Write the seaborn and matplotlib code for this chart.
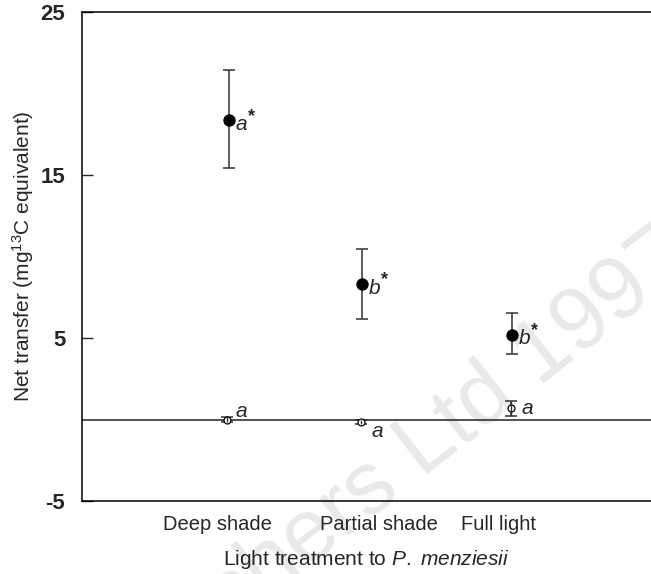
import matplotlib
matplotlib.use("Agg")
import matplotlib.pyplot as plt
import pandas as pd
import seaborn as sns

# Данные
treatments = ['Deep shade', 'Partial shade', 'Full light']
label_pos = [0.95, 2.09, 2.93]

# заполненные точки (с пометкой *)
filled_x = [1.033, 1.968, 3.023]
filled_y = [18.35, 8.3, 5.2]
filled_lo = [15.45, 6.15, 4.0]
filled_hi = [21.45, 10.45, 6.55]
filled_txt = ['a', 'b', 'b']

# пустые точки
open_x = [1.02, 1.96, 3.015]
open_y = [0.0, -0.15, 0.7]
open_lo = [-0.15, -0.3, 0.2]
open_hi = [0.15, 0.0, 1.15]
open_txt = ['a', 'a', 'a']

yticks = [-5, 5, 15, 25]

df_f = pd.DataFrame({'x': filled_x, 'y': filled_y, 'lo': filled_lo, 'hi': filled_hi})
df_o = pd.DataFrame({'x': open_x, 'y': open_y, 'lo': open_lo, 'hi': open_hi})

sns.set_style("white")
plt.rcParams['font.family'] = ['Liberation Sans', 'DejaVu Sans']
plt.rcParams['mathtext.fontset'] = 'custom'
plt.rcParams['mathtext.rm'] = 'Liberation Sans'
plt.rcParams['mathtext.it'] = 'Liberation Sans:italic'

fig = plt.figure(figsize=(6.51, 5.74), dpi=100)
ax = fig.add_axes([82 / 651, 1 - 501 / 574, 1 - 82 / 651, (501 - 12) / 574])
ax.set_facecolor('none')

# водяной знак (в пикселях от левого нижнего угла)
fig.text(75, -175, 'Publishers Ltd 1997', transform=None, fontsize=64, color='#e9e9e9',
         rotation=38, rotation_mode='anchor', ha='left', va='baseline', zorder=-1)

ax.axhline(0, color='#222222', lw=1.1, zorder=1)

for d, face, ms in [(df_f, 'black', 8), (df_o, 'white', 5)]:
    ax.errorbar(d['x'], d['y'], yerr=[d['y'] - d['lo'], d['hi'] - d['y']], fmt='none',
                ecolor='#333333', elinewidth=1.1, capsize=4, capthick=1.1, zorder=2)
    sns.scatterplot(x=d['x'], y=d['y'], ax=ax, color=face, edgecolor='black',
                    linewidth=0.9, s=ms ** 2, zorder=3, legend=False)
    if face == 'white':
        ax.vlines(d['x'], d['lo'], d['hi'], color='#333333', lw=1.0, zorder=4)

for x, y, t in zip(filled_x, filled_y, filled_txt):
    ax.annotate(t, (x, y), xytext=(5, -3), textcoords='offset points',
                fontsize=15, style='italic', ha='left', va='center')
    ax.annotate('*', (x, y), xytext=(14, 3), textcoords='offset points',
                fontsize=13, fontweight='bold', ha='left', va='center')

offs = [(6, 6), (8, -7), (8, 0)]
for x, y, t, o in zip(open_x, open_y, open_txt, offs):
    ax.annotate(t, (x, y), xytext=o, textcoords='offset points',
                fontsize=15, style='italic', ha='left', va='center')

ax.set_xlim(0, 4)
ax.set_ylim(-5, 25)
ax.set_yticks(yticks)
ax.set_yticklabels([str(v) for v in yticks], fontweight='bold', fontsize=16)
ax.set_xticks(label_pos)
ax.set_xticklabels(treatments, fontsize=14.5)
ax.tick_params(axis='y', direction='in', length=8, width=1, pad=12, left=True)
ax.tick_params(axis='x', length=0, pad=10)

for s in ['left', 'top', 'bottom']:
    ax.spines[s].set_color('black')
    ax.spines[s].set_linewidth(1.1)
ax.spines['right'].set_visible(False)

ax.set_ylabel('Net transfer (mg$^{13}$C equivalent)', fontsize=15, labelpad=3)
ax.set_xlabel('Light treatment to $\\mathit{P.}$ $\\mathit{menziesii}$', fontsize=15, labelpad=10)

fig.savefig('out.png', dpi=100)
